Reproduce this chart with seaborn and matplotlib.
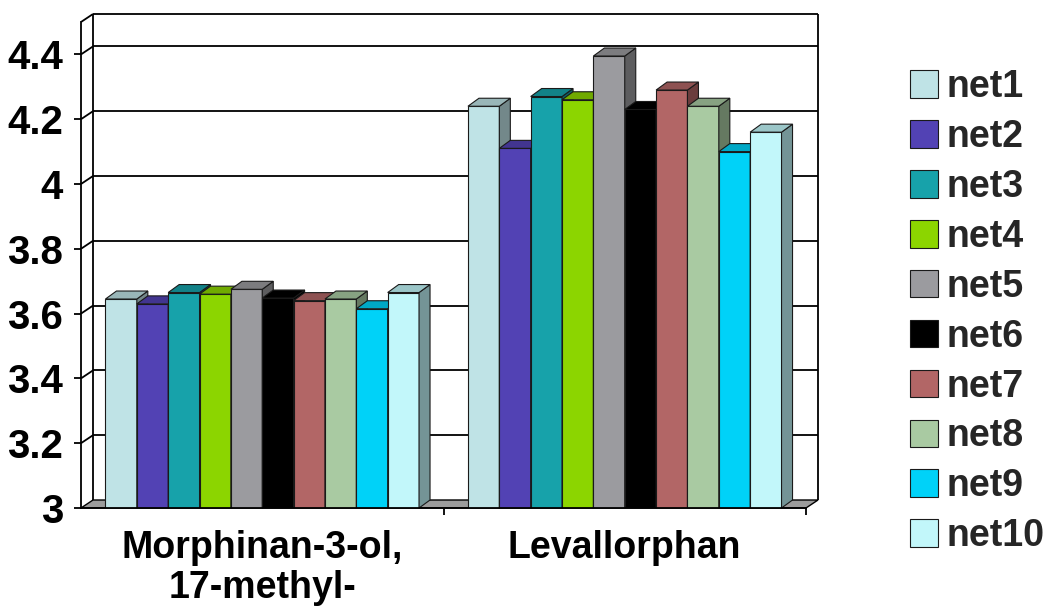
import numpy as np
import pandas as pd
import seaborn as sns
import matplotlib.pyplot as plt
import matplotlib.colors as mcolors
from matplotlib.patches import Polygon

# values
compounds = ["Morphinan-3-ol,\n17-methyl-", "Levallorphan"]
nets = ["net1", "net2", "net3", "net4", "net5", "net6", "net7", "net8", "net9", "net10"]
morphinan = [3.645, 3.630, 3.665, 3.660, 3.675, 3.648, 3.640, 3.645, 3.615, 3.665]
levallorphan = [4.240, 4.110, 4.270, 4.260, 4.395, 4.230, 4.290, 4.240, 4.100, 4.160]
y_ticks = [3.0, 3.2, 3.4, 3.6, 3.8, 4.0, 4.2, 4.4]
y_tick_labels = ["3", "3.2", "3.4", "3.6", "3.8", "4", "4.2", "4.4"]
net_colors = ["#BFE3E6", "#5242B4", "#17A2AA", "#8CD500", "#9B9B9F",
              "#000000", "#B26666", "#A9CAA2", "#00D2F8", "#C2F7FA"]

df = pd.DataFrame({
    "compound": np.repeat(compounds, len(nets)),
    "net": nets * len(compounds),
    "value": morphinan + levallorphan,
})

sns.set_theme(style="white")
plt.rcParams['font.family'] = ['Liberation Sans', 'DejaVu Sans']
plt.rcParams['font.weight'] = 'bold'

W, H, DPI = 1047, 610, 100
fig = plt.figure(figsize=(W / DPI, H / DPI), dpi=DPI)
ax = fig.add_axes([81 / W, 102 / H, 725 / W, 486 / H])

sns.barplot(data=df, x="compound", y="value", hue="net", hue_order=nets,
            palette=net_colors, saturation=1, width=0.865, gap=0,
            errorbar=None, edgecolor="#1a1a1a", linewidth=0.8, ax=ax)

ax.set_xlim(-0.5, 1.5)
ax.set_ylim(3, 4.5)
ax.set_xlabel("")
ax.set_ylabel("")

bars = sorted([p for c in ax.containers for p in c.patches], key=lambda p: p.get_x())


def px_to_data(dx_px, dy_px):
    p0 = ax.transData.transform((0, 3))
    p1 = ax.transData.inverted().transform(p0 + np.array([dx_px, dy_px]))
    return p1[0] - 0, p1[1] - 3


# fake 3d depth: walls and bars
wdx, wdy = px_to_data(12, 8)
bdx, bdy = px_to_data(11, 8)
x0, x1 = -0.5, 1.5
lk = dict(color="black", lw=1.3, clip_on=False, solid_capstyle="butt")

# floor
ax.add_patch(Polygon([(x0, 3), (x1, 3), (x1 + wdx, 3 + wdy), (x0 + wdx, 3 + wdy)],
                     closed=True, facecolor="#9c9c9c", edgecolor="black", lw=1.0,
                     zorder=1.5, clip_on=False))
# back wall grid lines + side wall diagonals
for t in y_ticks[1:]:
    ax.plot([x0 + wdx, x1 + wdx], [t + wdy, t + wdy], zorder=1, **lk)
    ax.plot([x0, x0 + wdx], [t, t + wdy], zorder=1, **lk)
ax.plot([x0 + wdx, x1 + wdx], [4.5 + wdy, 4.5 + wdy], zorder=1, **lk)
ax.plot([x0, x0 + wdx], [4.5, 4.5 + wdy], zorder=1, **lk)
ax.plot([x0 + wdx, x0 + wdx], [3 + wdy, 4.5 + wdy], zorder=1, **lk)
ax.plot([x1 + wdx, x1 + wdx], [3 + wdy, 4.5 + wdy], zorder=1, **lk)

for k, p in enumerate(bars):
    bx, bw, bh = p.get_x(), p.get_width(), p.get_height()
    rgb = np.array(mcolors.to_rgb(p.get_facecolor()))
    p.set_zorder(2 + 2 * k)
    top = Polygon([(bx, bh), (bx + bw, bh), (bx + bw + bdx, bh + bdy), (bx + bdx, bh + bdy)],
                  closed=True, facecolor=rgb * 0.8, edgecolor="#1a1a1a", lw=0.8,
                  zorder=2.5 + 2 * k, clip_on=False)
    side = Polygon([(bx + bw, 3), (bx + bw + bdx, 3 + bdy), (bx + bw + bdx, bh + bdy), (bx + bw, bh)],
                   closed=True, facecolor=rgb * 0.6, edgecolor="#1a1a1a", lw=0.8,
                   zorder=2.5 + 2 * k, clip_on=False)
    ax.add_patch(side)
    ax.add_patch(top)

for s in ["top", "right"]:
    ax.spines[s].set_visible(False)
for s in ["left", "bottom"]:
    ax.spines[s].set_color("black")
    ax.spines[s].set_linewidth(1.3)
    ax.spines[s].set_zorder(50)

ax.set_yticks(y_ticks)
ax.set_yticklabels(y_tick_labels)
ax.tick_params(axis="y", direction="out", length=5, width=1.3, color="black",
               pad=8, labelsize=29, left=True)
ax.set_xticks([0, 1])
ax.set_xticklabels(compounds, linespacing=1.15)
ax.set_xticks([0.5, 1.5], minor=True)
ax.tick_params(axis="x", which="major", length=0, pad=16, labelsize=27)
ax.tick_params(axis="x", which="minor", direction="out", length=5, width=1.3,
               color="black", bottom=True)
for lbl in ax.get_yticklabels() + ax.get_xticklabels():
    lbl.set_fontweight("bold")
    lbl.set_color("black")

handles, labels = ax.get_legend_handles_labels()
ax.legend(handles, labels, loc="center left", bbox_to_anchor=(910 / W, 0.489),
          bbox_transform=fig.transFigure, frameon=False,
          prop={"weight": "bold", "size": 27}, handlelength=0.75, handleheight=0.75,
          handletextpad=0.22, labelspacing=0.37, borderpad=0, borderaxespad=0)

fig.savefig("out.png", dpi=DPI)
